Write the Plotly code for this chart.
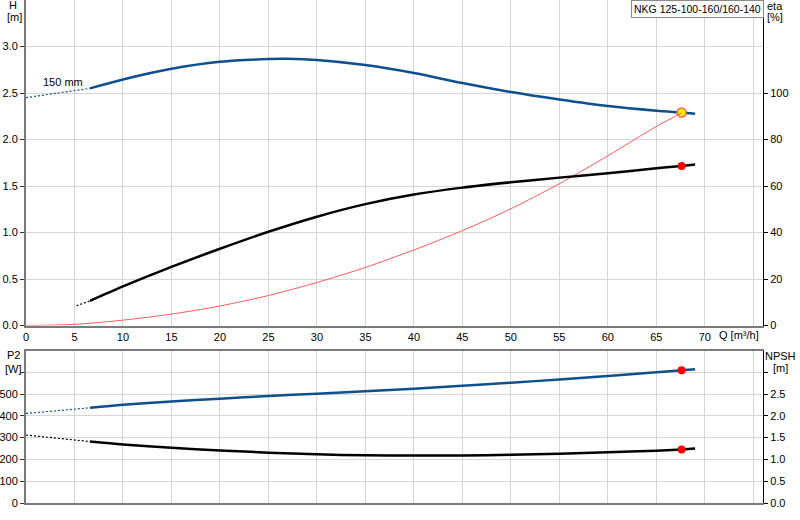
import plotly.graph_objects as go

# ---------------- data ----------------
# Head curve (150 mm impeller)
q_head_ext = [0, 6.6]
head_ext = [2.45, 2.55]
q_head = [6.6, 10, 15, 20, 25, 27, 30, 35, 40, 45, 50, 55, 60, 65, 67.6, 69]
head = [2.55, 2.645, 2.76, 2.835, 2.865, 2.868, 2.855, 2.80, 2.715, 2.607, 2.51, 2.43, 2.36, 2.31, 2.29, 2.278]

# Efficiency curves [%]
q_eta_red = [0, 5, 10, 15, 20, 25, 30, 35, 40, 45, 50, 55, 60, 65, 67.6]
eta_red = [0, 0.5, 2.3, 4.9, 8.4, 12.9, 18.5, 25.0, 32.5, 40.8, 50.2, 61.0, 73.0, 85.6, 91.4]

q_eta_blk_ext = [5.2, 6.6]
eta_blk_ext = [8.5, 10.6]
q_eta_blk = [6.6, 10, 15, 20, 25, 30, 35, 40, 45, 50, 55, 60, 65, 67.6, 69]
eta_blk = [10.6, 16.8, 25.2, 33.0, 40.3, 46.8, 52.2, 56.3, 59.3, 61.6, 63.6, 65.5, 67.6, 68.6, 69.2]

# Power P2 [W]
q_p2_ext = [0, 6.6]
p2_ext = [411, 437]
q_p2 = [6.6, 10, 15, 20, 25, 30, 35, 40, 45, 50, 55, 60, 65, 67.6, 69]
p2 = [437, 451, 466, 479, 491, 502, 513, 525, 538, 552, 567, 583, 600, 609, 614]

# NPSH [m]
q_npsh_ext = [0, 6.6]
npsh_ext = [1.56, 1.41]
q_npsh = [6.6, 10, 15, 20, 25, 30, 35, 40, 45, 50, 55, 60, 65, 67.6, 69]
npsh = [1.41, 1.345, 1.267, 1.207, 1.155, 1.117, 1.095, 1.088, 1.092, 1.105, 1.13, 1.163, 1.20, 1.23, 1.25]

# Duty point
q_duty = [67.6]
head_duty = [2.29]
eta_blk_duty = [68.6]
p2_duty = [609]
npsh_duty = [1.23]

# Ticks
q_ticks = [0, 5, 10, 15, 20, 25, 30, 35, 40, 45, 50, 55, 60, 65, 70, 75]
q_ticktext = ["0", "5", "10", "15", "20", "25", "30", "35", "40", "45", "50", "55", "60", "65", "70", ""]
h_ticks = [0, 0.5, 1.0, 1.5, 2.0, 2.5, 3.0]
h_ticktext = ["0.0", "0.5", "1.0", "1.5", "2.0", "2.5", "3.0"]
eta_ticks = [0, 20, 40, 60, 80, 100]
p2_ticks = [0, 100, 200, 300, 400, 500, 600]
p2_ticktext = ["0", "100", "200", "300", "400", "500", ""]
npsh_ticks = [0, 0.5, 1.0, 1.5, 2.0, 2.5, 3.0]
npsh_ticktext = ["0.0", "0.5", "1.0", "1.5", "2.0", "2.5", ""]

# ---------------- styling ----------------
BLUE = "#0d4f8f"
BLACK = "#000000"
RED_LINE = "#ff5a5a"
GRID = "#d6d6d6"
AXIS_GRAY = "#7a7a7a"
FONT = "Liberation Sans, Arial, sans-serif"

W, H = 800, 520
ML, MR, MT, MB = 26, 37, 0, 17
PW = W - ML - MR
PH = H - MT - MB


def px(x):
    return (x - ML) / PW


def py(y):
    return (H - MB - y) / PH


SM = dict(shape="spline", smoothing=0.8)

fig = go.Figure()

# Top panel
fig.add_trace(go.Scatter(x=q_head_ext, y=head_ext, mode="lines",
                         line=dict(color=BLUE, width=1.2, dash="2px,2px"),
                         xaxis="x", yaxis="y", hoverinfo="skip"))
fig.add_trace(go.Scatter(x=q_head, y=head, mode="lines", line=dict(color=BLUE, width=2.5, **SM),
                         xaxis="x", yaxis="y"))
fig.add_trace(go.Scatter(x=q_eta_red, y=eta_red, mode="lines", line=dict(color=RED_LINE, width=1, **SM),
                         xaxis="x", yaxis="y2"))
fig.add_trace(go.Scatter(x=q_eta_blk_ext, y=eta_blk_ext, mode="lines",
                         line=dict(color=BLACK, width=1.2, dash="2px,2px"),
                         xaxis="x", yaxis="y2", hoverinfo="skip"))
fig.add_trace(go.Scatter(x=q_eta_blk, y=eta_blk, mode="lines", line=dict(color=BLACK, width=2.5, **SM),
                         xaxis="x", yaxis="y2"))
fig.add_trace(go.Scatter(x=q_duty, y=eta_blk_duty, mode="markers",
                         marker=dict(color="#ff0000", size=8), xaxis="x", yaxis="y2"))
fig.add_trace(go.Scatter(x=q_duty, y=head_duty, mode="markers",
                         marker=dict(color="#ffee00", size=9, line=dict(color="#ff6060", width=1.5)),
                         xaxis="x", yaxis="y"))

# Bottom panel
fig.add_trace(go.Scatter(x=q_p2_ext, y=p2_ext, mode="lines",
                         line=dict(color=BLUE, width=1.2, dash="2px,2px"),
                         xaxis="x2", yaxis="y3", hoverinfo="skip"))
fig.add_trace(go.Scatter(x=q_p2, y=p2, mode="lines", line=dict(color=BLUE, width=2.5, **SM),
                         xaxis="x2", yaxis="y3"))
fig.add_trace(go.Scatter(x=q_npsh_ext, y=npsh_ext, mode="lines",
                         line=dict(color=BLACK, width=1.2, dash="2px,2px"),
                         xaxis="x2", yaxis="y4", hoverinfo="skip"))
fig.add_trace(go.Scatter(x=q_npsh, y=npsh, mode="lines", line=dict(color=BLACK, width=2.5, **SM),
                         xaxis="x2", yaxis="y4"))
fig.add_trace(go.Scatter(x=q_duty, y=p2_duty, mode="markers",
                         marker=dict(color="#ff0000", size=8), xaxis="x2", yaxis="y3"))
fig.add_trace(go.Scatter(x=q_duty, y=npsh_duty, mode="markers",
                         marker=dict(color="#ff0000", size=8), xaxis="x2", yaxis="y4"))

tickfont = dict(family=FONT, size=11, color="#000")
top_dom = [py(325.5), 1]
bot_dom = [0, py(350.5)]

fig.update_layout(
    width=W, height=H,
    margin=dict(l=ML, r=MR, t=MT, b=MB, pad=0, autoexpand=False),
    paper_bgcolor="white", plot_bgcolor="white",
    showlegend=False,
    font=dict(family=FONT, size=11, color="#000"),
    xaxis=dict(domain=[0, 1], range=[0, 76], anchor="y", automargin=False,
               tickvals=q_ticks, ticktext=q_ticktext, tickfont=tickfont,
               showgrid=True, gridcolor=GRID, gridwidth=1, zeroline=False,
               showline=True, linecolor=AXIS_GRAY, linewidth=2, ticks=""),
    yaxis=dict(domain=top_dom, range=[0, 3.5], anchor="x", automargin=False,
               tickvals=h_ticks, ticktext=h_ticktext, tickfont=tickfont,
               showgrid=True, gridcolor=GRID, gridwidth=1, zeroline=False,
               showline=True, linecolor=AXIS_GRAY, linewidth=2,
               ticks="outside", ticklen=4, tickcolor="#333"),
    yaxis2=dict(range=[0, 140], overlaying="y", side="right", anchor="x", automargin=False,
                tickvals=eta_ticks, tickfont=tickfont, showgrid=False, zeroline=False,
                showline=True, linecolor="#000", linewidth=1,
                ticks="outside", ticklen=4, tickcolor="#000"),
    xaxis2=dict(domain=[0, 1], range=[0, 76], anchor="y3", matches="x", automargin=False,
                tickvals=q_ticks, showticklabels=False,
                showgrid=True, gridcolor=GRID, gridwidth=1, zeroline=False,
                showline=True, linecolor=AXIS_GRAY, linewidth=2, mirror=True, ticks=""),
    yaxis3=dict(domain=bot_dom, range=[0, 700], anchor="x2", automargin=False,
                tickvals=p2_ticks, ticktext=p2_ticktext, tickfont=tickfont,
                showgrid=True, gridcolor=GRID, gridwidth=1, zeroline=False,
                showline=True, linecolor=AXIS_GRAY, linewidth=2,
                ticks="outside", ticklen=4, tickcolor="#333"),
    yaxis4=dict(range=[0, 3.5], overlaying="y3", side="right", anchor="x2", automargin=False,
                tickvals=npsh_ticks, ticktext=npsh_ticktext, tickfont=tickfont,
                showgrid=False, zeroline=False,
                showline=True, linecolor="#000", linewidth=1,
                ticks="outside", ticklen=4, tickcolor="#000"),
)

ann = []


def label(text, x, y, size=11, **kw):
    ann.append(dict(text=text, x=px(x), y=py(y), xref="paper", yref="paper",
                    showarrow=False, xanchor="center", yanchor="middle",
                    font=dict(family=FONT, size=size, color="#000"), **kw))


label("H", 13, 5)
label("[m]", 14, 17.5)
label("eta", 775, 6)
label("[%]", 775, 17)
label("Q [m³/h]", 739, 334.5)
label("P2", 13, 355)
label("[W]", 13, 368.5)
label("NPSH", 780.5, 356)
label("[m]", 780.5, 368)
label("150 mm", 63, 82)
ann.append(dict(text="NKG 125-100-160/160-140", x=px(697), y=py(9.5), xref="paper", yref="paper",
                showarrow=False, xanchor="center", yanchor="middle",
                font=dict(family=FONT, size=10.5, color="#000"),
                bordercolor="#8a8a8a", borderwidth=1, borderpad=2, bgcolor="white"))
fig.update_layout(annotations=ann)

fig.write_html("out.html",
               config={"displayModeBar": False},
               post_script="document.body.style.margin='0px';document.body.style.padding='0px';document.body.style.overflow='hidden';")
